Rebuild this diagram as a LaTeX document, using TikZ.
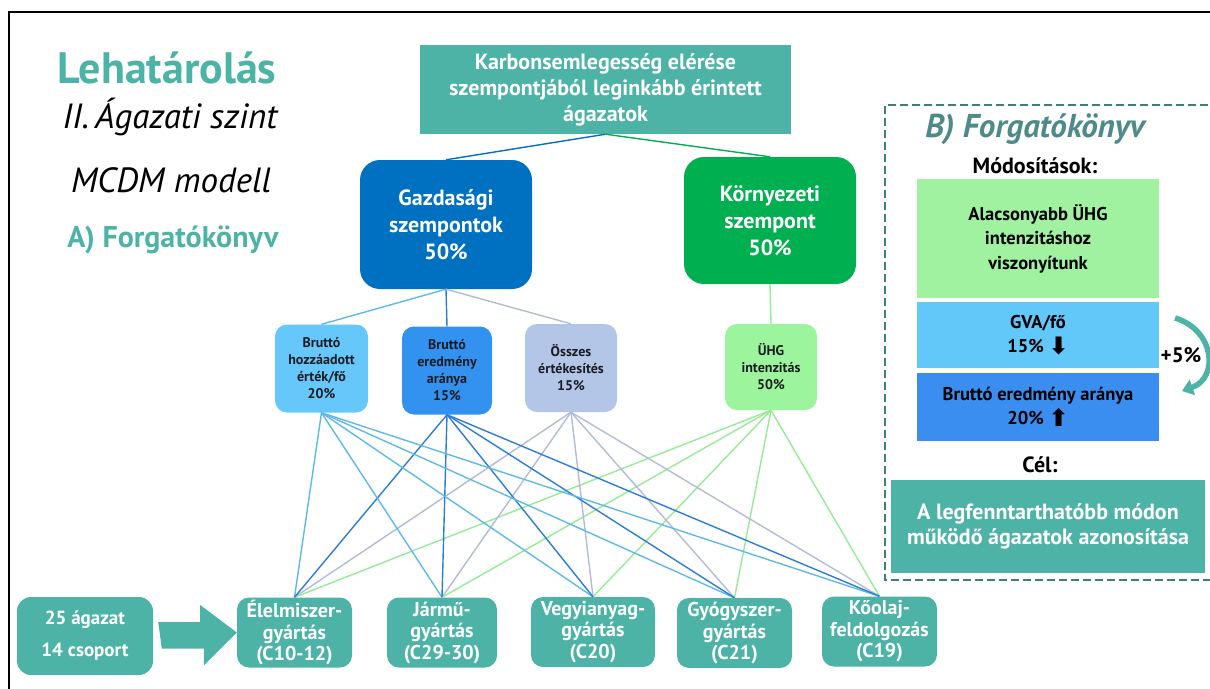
\documentclass[tikz,border=0pt]{standalone}
\usepackage{fontspec}
\setmainfont{PT Sans}
\newfontfamily\symfont{DejaVu Sans}
\usetikzlibrary{arrows.meta}

\definecolor{tealc}{RGB}{77,179,166}
\definecolor{tealdark}{RGB}{62,128,120}
\definecolor{titlegrey}{RGB}{78,138,138}
\definecolor{gazblue}{RGB}{0,112,192}
\definecolor{korgreen}{RGB}{0,176,80}
\definecolor{critA}{RGB}{102,200,250}
\definecolor{critB}{RGB}{51,145,240}
\definecolor{critC}{RGB}{180,198,231}
\definecolor{critD}{RGB}{156,245,156}
\definecolor{lineA}{RGB}{95,185,232}
\definecolor{lineB}{RGB}{45,125,215}
\definecolor{lineC}{RGB}{178,188,218}
\definecolor{lineD}{RGB}{150,235,150}
\definecolor{panelgreen}{RGB}{160,242,160}
\definecolor{panelsky}{RGB}{98,200,250}
\definecolor{panelblue}{RGB}{58,142,240}
\definecolor{darktext}{RGB}{25,28,35}

\tikzset{
  box/.style={rectangle, inner sep=0pt, align=center, font=\bfseries},
  bigbox/.style={box, text=white, rounded corners=20pt,
    font=\fontsize{22}{27}\selectfont\bfseries},
  critbox/.style={box, rounded corners=12pt, text=darktext,
    font=\fontsize{14}{17}\selectfont\bfseries,
    minimum height=88pt, minimum width=92pt},
  sectorbox/.style={box, fill=tealc, text=white, rounded corners=12pt,
    font=\fontsize{20}{21.5}\selectfont\bfseries, minimum height=70pt},
  panelbox/.style={box, text=black, minimum width=242pt,
    font=\fontsize{18.5}{24.5}\selectfont\bfseries},
  link/.style={line width=1.4pt},
}

\begin{document}
\begin{tikzpicture}[x=1pt,y=-1pt]
\useasboundingbox (0,0) rectangle (1210,688);

% outer frame
\draw[line width=1.5pt] (9,700) -- (9,12) -- (1220,12);

% heading block
\node[text=tealc, font=\fontsize{44}{44}\selectfont\bfseries] (head) at (167,68) {Lehatárolás};
\node[font=\fontsize{35}{35}\selectfont\itshape] (level) at (170,117) {II.\,Ágazati szint};
\node[font=\fontsize{35}{35}\selectfont\itshape] (model) at (171,180) {MCDM modell};
\node[text=tealc, font=\fontsize{30}{30}\selectfont\bfseries] (scenA) at (173,240) {A) Forgatókönyv};

% goal and main criteria
\node[box, fill=tealc, text=white, minimum width=371pt, minimum height=89pt,
  font=\fontsize{22}{26}\selectfont\bfseries] (goal) at (605.5,89.5)
  {Karbonsemlegesség elérése\\szempontjából leginkább érintett\\ágazatok};
\node[bigbox, fill=gazblue, minimum width=172pt, minimum height=129pt] (gaz) at (446,224.5)
  {Gazdasági\\szempontok\\50\%};
\node[bigbox, fill=korgreen, minimum width=172pt, minimum height=127pt] (kor) at (770,220.5)
  {Környezeti\\szempont\\50\%};

% sub-criteria
\node[critbox, fill=critA, minimum width=93pt] (c1) at (321.5,368.5) {Bruttó\\hozzáadott\\érték/fő\\20\%};
\node[critbox, fill=critB, minimum width=90pt] (c2) at (447,370.5) {Bruttó\\eredmény\\aránya\\15\%};
\node[critbox, fill=critC] (c3) at (571,368) {Összes\\értékesítés\\15\%};
\node[critbox, fill=critD, minimum height=86pt] (c4) at (771,367) {ÜHG\\intenzitás\\50\%};

% sectors
\node[sectorbox, minimum width=115pt] (s1) at (294.5,632.5) {Élelmiszer-\\gyártás\\(C10-12)};
\node[sectorbox, minimum width=110pt] (s2) at (442,632.5) {Jármű-\\gyártás\\(C29-30)};
\node[sectorbox, minimum width=124pt] (s3) at (593,632) {Vegyianyag-\\gyártás\\(C20)};
\node[sectorbox, minimum width=115pt] (s4) at (734.5,633) {Gyógyszer-\\gyártás\\(C21)};
\node[sectorbox, minimum width=115pt] (s5) at (879.5,631.5) {Kőolaj-\\feldolgozás\\(C19)};

\node[box, fill=tealc, text=white, rounded corners=14pt, minimum width=136pt, minimum height=78pt,
  font=\fontsize{19}{32}\selectfont\bfseries] (src) at (85,636) {25 ágazat\\14 csoport};

% block arrow from the sector pool to the sectors
\fill[tealc] (src.east) ++(5,-14) coordinate (ab1) -- ++(42,0) -- ++(0,-17) -- (s1.west) -- ++(-33,33) -- ++(0,-17) -- ++(-42,0) -- cycle;

% hierarchy links
\draw[link, draw=gazblue] (goal.south) -- (gaz.north);
\draw[link, draw=korgreen] (goal.south) -- (kor.north);
\draw[link, draw=lineA] (gaz.south) -- (c1.north);
\draw[link, draw=lineB] (gaz.south) -- (c2.north);
\draw[link, draw=lineC] (gaz.south) -- (c3.north);
\draw[link, draw=lineD] (kor.south) -- (c4.north);

\foreach \s in {s1,s2,s3,s4,s5}{
  \draw[link, draw=lineA] (c1.south) -- (\s.north);
  \draw[link, draw=lineC] (c3.south) -- (\s.north);
  \draw[link, draw=lineD] (c4.south) -- (\s.north);
  \draw[link, draw=lineB] (c2.south) -- (\s.north);
}

% scenario B panel
\draw[tealdark, line width=2.2pt, dash pattern=on 8pt off 4pt] (1220,105) -- (885,105) -- (885,580) -- (1220,580);
\node[text=titlegrey, font=\fontsize{33}{33}\selectfont\bfseries\itshape] (scenB) at (1035,129) {B) Forgatókönyv};
\node[font=\fontsize{22}{22}\selectfont\bfseries] (mods) at (1035,166) {Módosítások:};
\node[panelbox, fill=panelgreen, minimum height=119pt] (pg) at (1038,238.5)
  {Alacsonyabb ÜHG\\intenzitáshoz\\viszonyítunk};
\node[panelbox, fill=panelsky, minimum height=66pt] (pb1) at (1038,335)
  {GVA/fő\\15\% {\symfont\fontsize{24}{24}\selectfont\raisebox{-2pt}{⬇}}};
\node[panelbox, fill=panelblue, minimum height=68pt] (pb2) at (1038,407)
  {Bruttó eredmény aránya\\20\% {\symfont\fontsize{24}{24}\selectfont\raisebox{-2pt}{⬆}}};
\draw[tealc, line width=5.5pt, -{Triangle[width=16pt,length=11pt]}]
  (1175,318) .. controls (1215,330) and (1219,378) .. (1182,391);
\node[font=\fontsize{21}{21}\selectfont\bfseries, inner sep=1pt] (shift) at (1181,355) {+5\%};
\node[font=\fontsize{22}{22}\selectfont\bfseries] (cel) at (1040,465) {Cél:};
\node[box, fill=tealc, text=white, minimum width=314pt, minimum height=93pt,
  font=\fontsize{22}{25}\selectfont\bfseries] (aim) at (1048,526.5)
  {A legfenntarthatóbb módon\\működő ágazatok azonosítása};
\end{tikzpicture}
\end{document}
